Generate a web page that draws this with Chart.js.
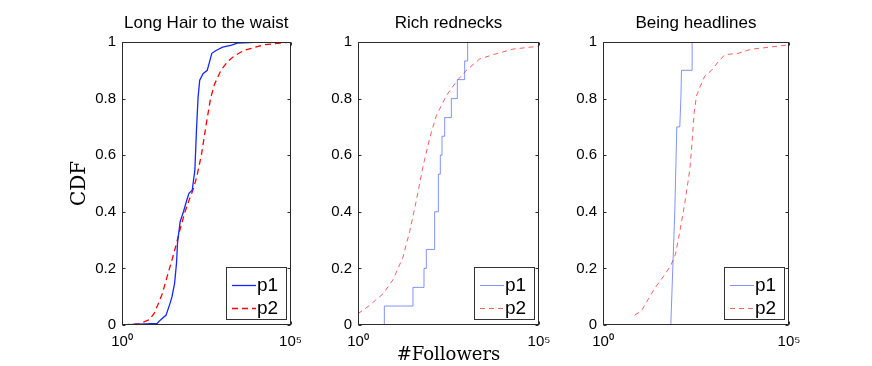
<!DOCTYPE html>
<html><head><meta charset="utf-8">
<script src="https://cdn.jsdelivr.net/npm/chart.js@4/dist/chart.umd.min.js"></script>
<style>
html,body{margin:0;padding:0;background:#fff;}
#wrap{position:relative;width:872px;height:366px;overflow:hidden;background:#fff;}
canvas{position:absolute;top:0;}
</style></head><body>
<div id="wrap">
<canvas id="c1" width="310" height="366" style="left:0px"></canvas>
<canvas id="c2" width="260" height="366" style="left:310px"></canvas>
<canvas id="c3" width="302" height="366" style="left:570px"></canvas>
</div>
<script>
// ---------- data ----------
const panelTitles = ['Long Hair to the waist', 'Rich rednecks', 'Being headlines'];
const seriesNames = ['p1', 'p2'];
const xTickValues = [1, 100000];
const xTickLabels = ['10⁰', '10⁵'];
const yTickValues = [0, 0.2, 0.4, 0.6, 0.8, 1];
const yTickLabels = ['0', '0.2', '0.4', '0.6', '0.8', '1'];
const yAxisTitle = 'CDF';
const xAxisTitle = '#Followers';

// Panel 1: Long Hair to the waist
const hairP1X = [1.12, 3.26, 11.1, 13.9, 20.3, 27.2, 30.4, 36.3, 41.5, 44.4, 53.1, 66.4, 83.0, 96.9, 121, 145, 162, 181, 202, 253, 338, 462, 618, 964, 1686, 2633, 12550];
const hairP1Y = [0, 0.003, 0.006, 0.018, 0.035, 0.08, 0.1, 0.147, 0.22, 0.29, 0.365, 0.4, 0.44, 0.465, 0.476, 0.547, 0.69, 0.806, 0.865, 0.888, 0.9, 0.96, 0.97, 0.982, 0.988, 0.996, 1.0];
const hairP2X = [1.12, 3.26, 6.37, 8.91, 12.4, 15.6, 21.7, 30.4, 39.7, 53.1, 74.1, 104, 130, 162, 226, 316, 423, 552, 863, 1349, 2108, 4111, 15700, 100000];
const hairP2Y = [0, 0.005, 0.018, 0.04, 0.08, 0.11, 0.17, 0.23, 0.28, 0.34, 0.40, 0.45, 0.48, 0.52, 0.60, 0.71, 0.80, 0.85, 0.90, 0.93, 0.95, 0.97, 0.99, 1.0];

// Panel 2: Rich rednecks (p1 is an empirical step CDF)
const richP1X = [1, 5.34, 33.0, 66.6, 77.2, 131, 166, 188, 209, 248, 379, 554, 885, 1070];
const richP1Y = [0, 0.067, 0.133, 0.2, 0.267, 0.4, 0.533, 0.6, 0.667, 0.733, 0.8, 0.867, 0.933, 1.0];
const richP2X = [1, 1.89, 3.21, 4.91, 9.27, 17.5, 26.7, 40.9, 62.5, 95.4, 146, 275, 520, 984, 2296, 5358, 19130, 100000];
const richP2Y = [0.04, 0.065, 0.09, 0.11, 0.16, 0.24, 0.33, 0.44, 0.56, 0.66, 0.74, 0.81, 0.86, 0.90, 0.94, 0.955, 0.975, 0.985];

// Panel 3: Being headlines
const headP1X = [7.13, 66.4, 85.1, 96.4, 116, 124, 129, 249, 249, 100000];
const headP1Y = [0, 0, 0.4, 0.7, 0.7, 0.8, 0.9, 0.9, 1.0, 1.0];
const headP2X = [7.13, 10.8, 16.3, 24.6, 41.3, 66.4, 88.7, 116, 158, 216, 249, 282, 326, 401, 547, 826, 1250, 1890, 4320, 9880, 22600, 100000];
const headP2Y = [0.035, 0.05, 0.09, 0.13, 0.17, 0.21, 0.25, 0.33, 0.43, 0.55, 0.65, 0.75, 0.81, 0.84, 0.88, 0.90, 0.93, 0.955, 0.96, 0.975, 0.98, 0.99];

// ---------- helpers ----------
function pts(xs, ys) { return xs.map((x, i) => ({ x: x, y: ys[i] })); }

const framePlugin = {
  id: 'frame',
  afterDatasetsDraw(chart) {
    const { ctx, chartArea: ca, scales } = chart;
    ctx.save();
    ctx.strokeStyle = '#2b2b2b';
    ctx.lineWidth = 1;
    const l = Math.round(ca.left) + 0.5, r = Math.round(ca.right) - 0.5;
    const t = Math.round(ca.top) + 0.5, b = Math.round(ca.bottom) - 0.5;
    ctx.strokeRect(l, t, r - l, b - t);
    ctx.beginPath();
    yTickValues.forEach(v => {
      const py = Math.round(scales.y.getPixelForValue(v)) + 0.5;
      ctx.moveTo(l, py); ctx.lineTo(l + 3, py);
      ctx.moveTo(r, py); ctx.lineTo(r - 3, py);
    });
    xTickValues.forEach(v => {
      const px = Math.round(scales.x.getPixelForValue(v)) + 0.5;
      ctx.moveTo(px, b); ctx.lineTo(px, b - 3);
      ctx.moveTo(px, t); ctx.lineTo(px, t + 3);
    });
    ctx.stroke();
    ctx.restore();
  }
};

const boxLegendPlugin = {
  id: 'boxLegend',
  afterDraw(chart) {
    const { ctx, chartArea: ca } = chart;
    const w = 60, h = 52;
    const x = Math.round(ca.right) - 5 - w, y = Math.round(ca.bottom) - 6 - h;
    ctx.save();
    ctx.fillStyle = '#fff';
    ctx.fillRect(x, y, w, h);
    ctx.strokeStyle = '#333';
    ctx.lineWidth = 1;
    ctx.strokeRect(x + 0.5, y + 0.5, w, h);
    chart.data.datasets.forEach((ds, i) => {
      const cy = y + 18 + i * 23;
      ctx.strokeStyle = ds.borderColor;
      ctx.lineWidth = ds.borderWidth;
      ctx.setLineDash(ds.borderDash || []);
      ctx.beginPath();
      ctx.moveTo(x + 6, cy + 0.5);
      ctx.lineTo(x + 30, cy + 0.5);
      ctx.stroke();
      ctx.setLineDash([]);
      ctx.fillStyle = '#000';
      ctx.font = '19px "Liberation Sans", Arial, sans-serif';
      ctx.textBaseline = 'middle';
      ctx.textAlign = 'left';
      ctx.fillText(ds.label, x + 31, cy + 1);
    });
    ctx.restore();
  }
};

function makeChart(id, idx, p1, p2, opts) {
  const ctx = document.getElementById(id);
  return new Chart(ctx, {
    type: 'line',
    data: {
      datasets: [
        { label: seriesNames[0], data: p1, borderColor: opts.blue, borderWidth: opts.bw, pointRadius: 0, fill: false, tension: 0, stepped: opts.stepped || false },
        { label: seriesNames[1], data: p2, borderColor: opts.red, borderWidth: opts.rw, borderDash: opts.dash, pointRadius: 0, fill: false, tension: 0 }
      ]
    },
    options: {
      responsive: false,
      animation: false,
      devicePixelRatio: 1,
      layout: { padding: { left: 0, right: opts.padR, top: 0, bottom: 0 } },
      plugins: {
        legend: { display: false },
        tooltip: { enabled: false },
        title: {
          display: true, text: panelTitles[idx], fullSize: false,
          color: '#000', font: { family: '"Liberation Sans", Arial, sans-serif', size: 17, weight: 'normal', lineHeight: 1.2 },
          padding: { top: 13, bottom: 8.6 }
        }
      },
      scales: {
        x: {
          type: 'logarithmic', min: 1, max: 100000,
          grid: { display: false, drawTicks: false },
          border: { display: false },
          afterBuildTicks: s => { s.ticks = xTickValues.map(v => ({ value: v })); },
          afterFit: s => { s.height = 41; },
          ticks: {
            autoSkip: false, maxRotation: 0, padding: 8, color: '#000',
            font: { family: '"Liberation Sans", Arial, sans-serif', size: 15 },
            callback: (v, i) => xTickLabels[i]
          },
          title: opts.xTitle ? {
            display: true, text: xAxisTitle, color: '#000',
            font: { family: '"DejaVu Serif", serif', size: 18, lineHeight: 1.2 },
            padding: { top: 0, bottom: 0 }
          } : { display: false }
        },
        y: {
          type: 'linear', min: 0, max: 1,
          grid: { display: false, drawTicks: false },
          border: { display: false },
          afterBuildTicks: s => { s.ticks = yTickValues.map(v => ({ value: v })); },
          afterFit: s => { s.width = opts.yW; },
          ticks: {
            autoSkip: false, padding: 6, color: '#000',
            font: { family: '"Liberation Sans", Arial, sans-serif', size: 15 },
            callback: (v, i) => yTickLabels[i]
          },
          title: opts.yTitle ? {
            display: true, text: yAxisTitle, color: '#000',
            font: { family: '"DejaVu Serif", serif', size: 20, lineHeight: 1.2 },
            padding: { top: 68, bottom: 0 }
          } : { display: false }
        }
      }
    },
    plugins: [framePlugin, boxLegendPlugin]
  });
}

makeChart('c1', 0, pts(hairP1X, hairP1Y), pts(hairP2X, hairP2Y),
  { blue: 'rgb(20,40,255)', red: 'rgb(255,0,0)', bw: 1.3, rw: 1.3, dash: [6, 4], yW: 122, padR: 16, yTitle: true });
makeChart('c2', 1, pts(richP1X, richP1Y), pts(richP2X, richP2Y),
  { blue: 'rgba(60,90,255,0.65)', red: 'rgba(255,40,40,0.75)', bw: 1, rw: 1, dash: [5, 4], yW: 48, padR: 31, stepped: true, xTitle: true });
makeChart('c3', 2, pts(headP1X, headP1Y), pts(headP2X, headP2Y),
  { blue: 'rgba(60,90,255,0.65)', red: 'rgba(255,40,40,0.75)', bw: 1, rw: 1, dash: [5, 4], yW: 33, padR: 83 });
</script>
</body></html>
